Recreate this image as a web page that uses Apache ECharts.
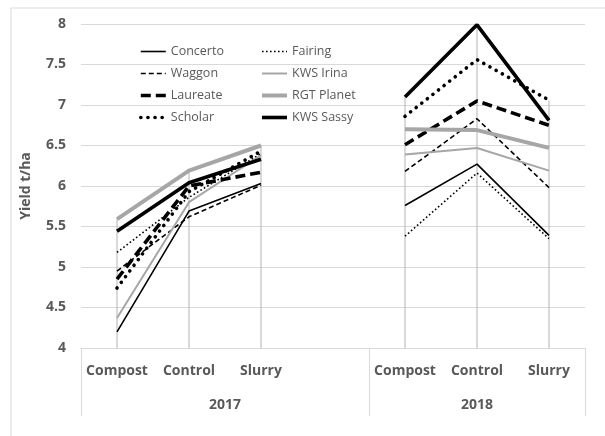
<!DOCTYPE html>
<html>
<head>
<meta charset="utf-8">
<script src="https://cdn.jsdelivr.net/npm/echarts@6/dist/echarts.min.js"></script>
<style>
  html, body { margin: 0; padding: 0; background: #fff; }
  #main { width: 605px; height: 436px; }
</style>
</head>
<body>
<div id="main"></div>
<script>
// categories (4th slot is the empty row between the two years)
const treatments = ["Compost", "Control", "Slurry", "", "Compost", "Control", "Slurry"];
const years = ["2017", "2018"];

// yields t/ha, one array per variety
const concerto = [4.2, 5.69, 6.03, "-", 5.76, 6.27, 5.39];
const fairing = [5.18, 5.86, 6.4, "-", 5.38, 6.16, 5.35];
const waggon = [4.95, 5.62, 6.01, "-", 6.18, 6.83, 5.98];
const kwsIrina = [4.37, 5.8, 6.38, "-", 6.39, 6.47, 6.19];
const laureate = [4.85, 6.0, 6.17, "-", 6.51, 7.05, 6.75];
const rgtPlanet = [5.59, 6.19, 6.5, "-", 6.7, 6.69, 6.47];
const scholar = [4.74, 5.93, 6.43, "-", 6.86, 7.56, 7.06];
const kwsSassy = [5.44, 6.04, 6.33, "-", 7.1, 7.99, 6.81];

const yTicks = [4, 4.5, 5, 5.5, 6, 6.5, 7, 7.5, 8];

const varieties = [
  { name: "Concerto", data: concerto, color: "#000", width: 1.6, type: "solid" },
  { name: "Fairing", data: fairing, color: "#000", width: 1.6, type: [1.6, 2.4] },
  { name: "Waggon", data: waggon, color: "#000", width: 1.6, type: [5, 3] },
  { name: "KWS Irina", data: kwsIrina, color: "#a6a6a6", width: 2, type: "solid" },
  { name: "Laureate", data: laureate, color: "#000", width: 3.6, type: [10, 5] },
  { name: "RGT Planet", data: rgtPlanet, color: "#a6a6a6", width: 4, type: "solid" },
  { name: "Scholar", data: scholar, color: "#000", width: 3.6, type: [0.1, 7], cap: "round" },
  { name: "KWS Sassy", data: kwsSassy, color: "#000", width: 3.6, type: "solid" },
];

// drop lines: from highest value at each category down to the axis
const dropTops = treatments.map((t, i) => {
  const vals = varieties.map((v) => v.data[i]).filter((v) => v !== "-");
  return vals.length ? Math.max(...vals) : "-";
});

const font = "'Open Sans', 'Noto Sans', sans-serif";
const chart = echarts.init(document.getElementById("main"));

const seriesList = [
  {
    type: "bar",
    name: "drop",
    data: dropTops,
    barWidth: 1,
    silent: true,
    z: 1,
    itemStyle: { color: "#b4b4b4" },
  },
];
varieties.forEach((v) => {
  seriesList.push({
    type: "line",
    name: v.name,
    data: v.data,
    symbol: "none",
    z: 3,
    itemStyle: { color: v.color },
    lineStyle: { color: v.color, width: v.width, type: v.type, cap: v.cap || "butt" },
  });
});

const legendBase = {
  orient: "vertical",
  top: 40,
  itemWidth: 25,
  itemHeight: 14,
  itemGap: 9,
  itemStyle: { opacity: 0 },
  lineStyle: { width: "inherit", type: "inherit", cap: "inherit", color: "inherit", opacity: 1 },
  textStyle: { fontFamily: font, fontSize: 12.5, color: "#595959" },
};

chart.setOption({
  animation: false,
  graphic: [
    {
      type: "rect",
      shape: { x: 11, y: 8, width: 620, height: 460 },
      style: { fill: null, stroke: "#d9d9d9", lineWidth: 1 },
      silent: true,
    },
  ],
  grid: { left: 81, right: 20, top: 24, bottom: 88 },
  legend: [
    Object.assign({}, legendBase, { left: 134, data: ["Concerto", "Waggon", "Laureate", "Scholar"] }),
    Object.assign({}, legendBase, { left: 255, data: ["Fairing", "KWS Irina", "RGT Planet", "KWS Sassy"] }),
  ],
  xAxis: [
    {
      type: "category",
      data: treatments,
      boundaryGap: true,
      axisLine: { lineStyle: { color: "#d9d9d9" } },
      axisTick: { show: false },
      axisLabel: {
        interval: 0,
        margin: 16,
        fontFamily: font,
        fontSize: 14,
        fontWeight: "bold",
        color: "#595959",
      },
    },
    {
      type: "value",
      min: 0,
      max: 7,
      position: "bottom",
      splitLine: { show: false },
      axisLine: { show: false },
      axisTick: {
        show: true,
        customValues: [0, 4, 7],
        length: 68,
        lineStyle: { color: "#d9d9d9" },
      },
      axisLabel: {
        customValues: [2, 5.5],
        margin: 50,
        formatter: (val) => (val < 4 ? years[0] : years[1]),
        fontFamily: font,
        fontSize: 14,
        fontWeight: "bold",
        color: "#595959",
      },
    },
  ],
  yAxis: {
    type: "value",
    min: yTicks[0],
    max: yTicks[yTicks.length - 1],
    interval: 0.5,
    name: "Yield t/ha",
    nameLocation: "middle",
    nameGap: 48,
    nameTextStyle: { fontFamily: font, fontSize: 14, fontWeight: "bold", color: "#595959" },
    axisLine: { show: false },
    axisTick: { show: false },
    splitLine: { lineStyle: { color: "#d9d9d9" } },
    axisLabel: { margin: 15, fontFamily: font, fontSize: 14, fontWeight: "bold", color: "#595959" },
  },
  series: seriesList,
});
</script>
</body>
</html>
